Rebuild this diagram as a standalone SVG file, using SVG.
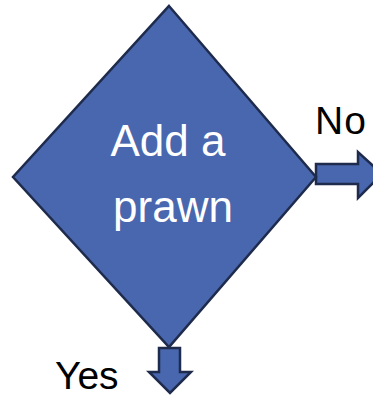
<svg xmlns="http://www.w3.org/2000/svg" width="373" height="397" viewBox="0 0 373 397">
<style>
.shape{fill:#4967ae;stroke:#1e2b4c;stroke-width:2.5;stroke-linejoin:miter}
.lbl{font-family:"Liberation Sans",Arial,sans-serif;font-size:39px;fill:#000}
.inner{font-family:"Liberation Sans",Arial,sans-serif;font-size:44px;fill:#fff;text-anchor:middle}
</style>
<rect width="373" height="397" fill="#fff"/>
<g id="connectors">
<path class="shape" d="M316,164 H358 V152 L382,174 L358,198 V184 H316 Z"/>
<path class="shape" d="M159,348 H180 V372 H191 L170,393 L149,372 H159 Z"/>
</g>
<g id="decision">
<polygon class="shape" points="169,6 316,177 169,347 13,177"/>
<text class="inner" x="168" y="156">Add a</text>
<text class="inner" x="173" y="222">prawn</text>
</g>
<g id="label-no"><text class="lbl" x="315" y="134" font-size="41" letter-spacing="1">No</text></g>
<g id="label-yes"><text class="lbl" x="55" y="389">Yes</text></g>
</svg>
